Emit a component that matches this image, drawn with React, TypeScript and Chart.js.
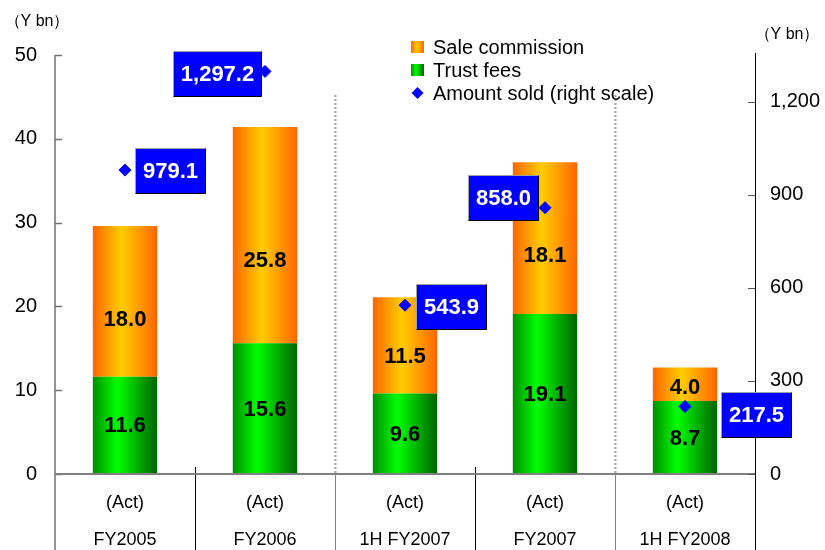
import React, { useEffect, useRef } from 'react';
import { Chart, registerables } from 'chart.js';
Chart.register(...registerables);

const categories = [
  ['(Act)', 'FY2005'],
  ['(Act)', 'FY2006'],
  ['(Act)', '1H FY2007'],
  ['(Act)', 'FY2007'],
  ['(Act)', '1H FY2008'],
];
const trustFees = [11.6, 15.6, 9.6, 19.1, 8.7];
const saleCommission = [18.0, 25.8, 11.5, 18.1, 4.0];
const amountSold = [979.1, 1297.2, 543.9, 858.0, 217.5];
const leftTicks = [0, 10, 20, 30, 40, 50];
const rightTicks = [0, 300, 600, 900, 1200];
const legendLabels = ['Sale commission', 'Trust fees', 'Amount sold (right scale)'];
const unitLabel = '（Y bn）';

// label placement styles (box centre offset from point, px)
const amountLabelDx = [45, -48.5, 46, -42, 70.5];
const amountLabelDy = [0, 2, 1, -10, 8];
const dottedAfter = [1, 3]; // dotted separators after these category indices

const FONT = "'Liberation Sans', Arial, sans-serif";
const BAR_PCT = 0.46;
const GREEN_STOPS: [number, string][] = [[0, '#009000'], [0.38, '#00ff00'], [1, '#006400']];
const ORANGE_STOPS: [number, string][] = [[0, '#ff6600'], [0.45, '#ffcc00'], [1, '#ff6600']];

function gradFor(stops: [number, string][]) {
  return (ctx: any) => {
    const chart = ctx.chart;
    const xs = chart.scales && chart.scales.x;
    if (!chart.chartArea || !xs || ctx.dataIndex === undefined) return stops[1][1];
    const cx = xs.getPixelForValue(ctx.dataIndex);
    const half = (xs.width / categories.length) * BAR_PCT / 2;
    const g = chart.ctx.createLinearGradient(cx - half, 0, cx + half, 0);
    stops.forEach(([o, c]) => g.addColorStop(o, c));
    return g;
  };
}

const fmt1 = (v: number) => v.toLocaleString('en-US', { minimumFractionDigits: 1, maximumFractionDigits: 1 });

const decorPlugin = {
  id: 'decor',
  afterDatasetsDraw(chart: any) {
    const { ctx, chartArea: ca, scales } = chart;
    const y = scales.y, y1 = scales.y1;
    const H = chart.height;
    const catW = (ca.right - ca.left) / categories.length;
    ctx.save();
    // category separators
    for (let i = 1; i < categories.length; i++) {
      const x = Math.round(ca.left + catW * i) + 0.5;
      const dotted = dottedAfter.includes(i - 1);
      ctx.beginPath();
      ctx.lineWidth = 1;
      ctx.strokeStyle = dotted ? '#808080' : '#000000';
      ctx.setLineDash([]);
      ctx.moveTo(x, dotted ? ca.bottom : ca.bottom - 7);
      ctx.lineTo(x, H);
      ctx.stroke();
      if (dotted) {
        ctx.beginPath();
        ctx.lineWidth = 2;
        ctx.strokeStyle = '#a0a0a0';
        ctx.setLineDash([2, 2]);
        ctx.moveTo(x, ca.top + 40);
        ctx.lineTo(x, ca.bottom);
        ctx.stroke();
        ctx.setLineDash([]);
      }
    }
    // left axis
    ctx.lineWidth = 1.5;
    ctx.strokeStyle = '#707070';
    ctx.beginPath();
    ctx.moveTo(ca.left, ca.top);
    ctx.lineTo(ca.left, H);
    ctx.stroke();
    leftTicks.forEach((v) => {
      const py = Math.round(y.getPixelForValue(v)) + 0.5;
      ctx.beginPath();
      ctx.moveTo(ca.left, py);
      ctx.lineTo(ca.left + 7, py);
      ctx.stroke();
    });
    // x axis
    ctx.lineWidth = 2;
    ctx.strokeStyle = '#808080';
    ctx.beginPath();
    ctx.moveTo(ca.left, ca.bottom);
    ctx.lineTo(ca.right, ca.bottom);
    ctx.stroke();
    // right axis
    ctx.lineWidth = 1;
    ctx.strokeStyle = '#000000';
    ctx.beginPath();
    ctx.moveTo(ca.right + 0.5, ca.top - 2);
    ctx.lineTo(ca.right + 0.5, H);
    ctx.stroke();
    ctx.strokeStyle = '#555555';
    rightTicks.forEach((v) => {
      const py = Math.round(y1.getPixelForValue(v)) + 0.5;
      ctx.beginPath();
      ctx.moveTo(ca.right - 7, py);
      ctx.lineTo(ca.right, py);
      ctx.stroke();
    });

    // bar labels
    ctx.fillStyle = '#000';
    ctx.font = `bold 22px ${FONT}`;
    ctx.textAlign = 'center';
    ctx.textBaseline = 'middle';
    const m0 = chart.getDatasetMeta(0);
    const m1 = chart.getDatasetMeta(1);
    m0.data.forEach((el: any, i: number) => {
      ctx.fillText(fmt1(trustFees[i]), el.x, (el.y + el.base) / 2 + 1);
    });
    m1.data.forEach((el: any, i: number) => {
      ctx.fillText(fmt1(saleCommission[i]), el.x, el.y + 0.62 * (el.base - el.y));
    });

    // amount label boxes
    const m2 = chart.getDatasetMeta(2);
    m2.data.forEach((el: any, i: number) => {
      const txt = fmt1(amountSold[i]);
      ctx.font = `bold 22px ${FONT}`;
      const tw = ctx.measureText(txt).width;
      const bw = Math.round(tw + 15), bh = 45;
      const cx = el.x + amountLabelDx[i];
      const cy = el.y + amountLabelDy[i];
      const bx = Math.round(cx - bw / 2) + 0.5;
      const by = Math.round(cy - bh / 2) + 0.5;
      ctx.fillStyle = '#0000ff';
      ctx.fillRect(bx, by, bw, bh);
      ctx.lineWidth = 1;
      ctx.strokeStyle = '#a0a0a0';
      ctx.beginPath();
      ctx.moveTo(bx, by + bh);
      ctx.lineTo(bx, by);
      ctx.lineTo(bx + bw, by);
      ctx.stroke();
      ctx.strokeStyle = '#000000';
      ctx.beginPath();
      ctx.moveTo(bx + bw, by);
      ctx.lineTo(bx + bw, by + bh);
      ctx.lineTo(bx, by + bh);
      ctx.stroke();
      ctx.fillStyle = '#ffffff';
      ctx.fillText(txt, bx + bw / 2, by + bh / 2 + 1);
    });

    // unit labels
    ctx.fillStyle = '#000';
    ctx.font = `16px ${FONT}`;
    ctx.textAlign = 'center';
    ctx.fillText(unitLabel, 37, 22);
    ctx.fillText(unitLabel, 787, 35);

    // legend
    const lx = 411;
    const rows = [47, 70, 93];
    ctx.font = `20px ${FONT}`;
    ctx.textAlign = 'left';
    ctx.textBaseline = 'middle';
    [ORANGE_STOPS, GREEN_STOPS].forEach((stops, k) => {
      const g = ctx.createLinearGradient(lx, 0, lx + 13, 0);
      stops.forEach(([o, c]) => g.addColorStop(o, c));
      ctx.fillStyle = g;
      ctx.fillRect(lx, rows[k] - 6, 13, 12);
    });
    ctx.fillStyle = '#0000ff';
    ctx.beginPath();
    ctx.moveTo(lx + 6.5, rows[2] - 6);
    ctx.lineTo(lx + 12.5, rows[2]);
    ctx.lineTo(lx + 6.5, rows[2] + 6);
    ctx.lineTo(lx + 0.5, rows[2]);
    ctx.closePath();
    ctx.fill();
    ctx.fillStyle = '#000';
    legendLabels.forEach((t, k) => ctx.fillText(t, lx + 22, rows[k] + 1));
    ctx.restore();
  },
};

export default function App() {
  const ref = useRef<HTMLCanvasElement | null>(null);
  useEffect(() => {
    document.body.style.margin = '0';
    const canvas = ref.current!;
    const chart = new Chart(canvas, {
      type: 'bar',
      data: {
        labels: categories as any,
        datasets: [
          {
            type: 'bar',
            label: legendLabels[1],
            data: trustFees,
            backgroundColor: gradFor(GREEN_STOPS) as any,
            borderWidth: 0,
            yAxisID: 'y',
            order: 2,
            barPercentage: BAR_PCT,
            categoryPercentage: 1,
          },
          {
            type: 'bar',
            label: legendLabels[0],
            data: saleCommission,
            backgroundColor: gradFor(ORANGE_STOPS) as any,
            borderWidth: 0,
            yAxisID: 'y',
            order: 2,
            barPercentage: BAR_PCT,
            categoryPercentage: 1,
          },
          {
            type: 'line',
            label: legendLabels[2],
            data: amountSold,
            yAxisID: 'y1',
            showLine: false,
            pointStyle: 'rectRot',
            pointRadius: 6,
            pointBackgroundColor: '#0000ff',
            pointBorderColor: '#0000ff',
            borderColor: '#0000ff',
            backgroundColor: '#0000ff',
            order: 1,
          } as any,
        ],
      },
      options: {
        responsive: false,
        animation: false,
        devicePixelRatio: 1,
        layout: { padding: { top: 55, left: 0, right: 0, bottom: 0 } },
        plugins: { legend: { display: false }, tooltip: { enabled: false } },
        scales: {
          x: {
            stacked: true,
            grid: { display: false, drawTicks: false },
            border: { display: false },
            ticks: {
              color: '#000',
              font: { family: FONT, size: 18, lineHeight: 37 / 18 },
              padding: 11,
              maxRotation: 0,
              autoSkip: false,
            },
            afterFit: (s: any) => { s.height = 76; },
          },
          y: {
            stacked: true,
            position: 'left',
            min: 0,
            max: 50,
            grid: { display: false, drawTicks: false },
            border: { display: false },
            ticks: { color: '#000', font: { family: FONT, size: 20 }, padding: 18 },
            afterBuildTicks: (s: any) => { s.ticks = leftTicks.map((v) => ({ value: v })); },
            afterFit: (s: any) => { s.width = 55; },
          },
          y1: {
            position: 'right',
            min: 0,
            max: 1350,
            grid: { display: false, drawTicks: false },
            border: { display: false },
            ticks: {
              color: '#000',
              font: { family: FONT, size: 20 },
              padding: 15,
              callback: (v: any) => Number(v).toLocaleString('en-US'),
            },
            afterBuildTicks: (s: any) => { s.ticks = rightTicks.map((v) => ({ value: v })); },
            afterFit: (s: any) => { s.width = 70; },
          },
        },
      },
      plugins: [decorPlugin],
    });
    return () => chart.destroy();
  }, []);
  return (
    <div style={{ width: 825, height: 550, background: '#fff' }}>
      <canvas ref={ref} width={825} height={550} />
    </div>
  );
}
